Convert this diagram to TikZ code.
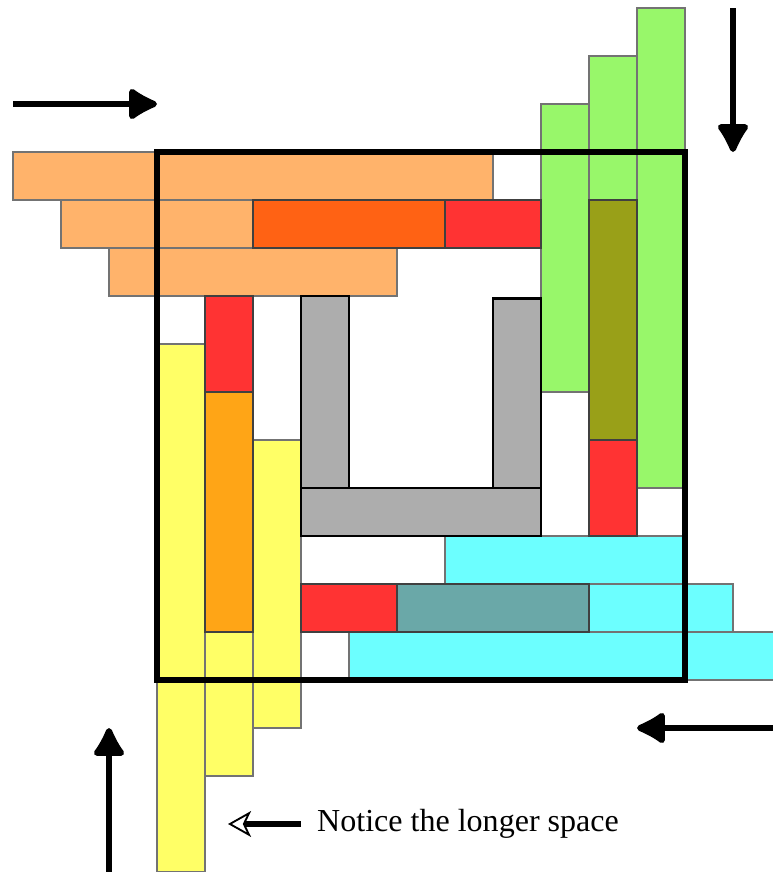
\documentclass[tikz,border=0pt]{standalone}
\usepackage{fontspec}
\setmainfont{Liberation Serif}
\usetikzlibrary{arrows.meta}

% colours of the bars
\definecolor{peach}{HTML}{FFB36B}
\definecolor{ember}{HTML}{FF6214}
\definecolor{tomato}{HTML}{FF3333}
\definecolor{lime}{HTML}{98F76A}
\definecolor{olivebar}{HTML}{99A018}
\definecolor{lemon}{HTML}{FFFF66}
\definecolor{amber}{HTML}{FFA516}
\definecolor{aqua}{HTML}{6CFFFF}
\definecolor{tealbar}{HTML}{6AA8A8}
\definecolor{pipegray}{HTML}{ADADAD}

\begin{document}
\begin{tikzpicture}[
    bar/.style={draw=black!55, line width=1.2pt},
    seg/.style={draw=black!75, line width=1.2pt},
    pipe/.style={draw=black, line width=1.6pt, fill=pipegray},
    bigarrow/.style={line width=3.6pt, -{Latex[length=7mm, width=7.8mm, round]}},
    notearrow/.style={line width=3.2pt, -{Stealth[open, length=4.8mm, width=5.4mm, inset=1.3mm, line width=1.1pt]}}
  ]
  % keep the margins of the page
  \clip (-0.271,0) rectangle (15.833,18.167);
  \useasboundingbox (-0.271,0) rectangle (15.833,18.167);

  % orange bars (top left)
  \draw[bar, fill=peach] (0,14) rectangle (10,15);
  \draw[bar, fill=peach] (1,13) rectangle (11,14);
  \draw[bar, fill=peach] (2,12) rectangle (8,13);

  % green bars (top right)
  \draw[bar, fill=lime] (11,10) rectangle (12,16);
  \draw[bar, fill=lime] (12,7) rectangle (13,17);
  \draw[bar, fill=lime] (13,8) rectangle (14,18);

  % yellow bars (bottom left)
  \draw[bar, fill=lemon] (3,0) rectangle (4,11);
  \draw[bar, fill=lemon] (4,2) rectangle (5,12);
  \draw[bar, fill=lemon] (5,3) rectangle (6,9);

  % cyan bars (bottom right)
  \draw[bar, fill=aqua] (9,6) rectangle (14,7);
  \draw[bar, fill=aqua] (6,5) rectangle (15,6);
  \draw[bar, fill=aqua] (7,4) rectangle (16,5);

  % darker parts where two bars meet
  \draw[seg, fill=ember] (5,13) rectangle (9,14);
  \draw[seg, fill=olivebar] (12,9) rectangle (13,14);
  \draw[seg, fill=amber] (4,5) rectangle (5,10);
  \draw[seg, fill=tealbar] (8,5) rectangle (12,6);

  % red ends
  \draw[seg, fill=tomato] (9,13) rectangle (11,14);
  \draw[seg, fill=tomato] (12,7) rectangle (13,9);
  \draw[seg, fill=tomato] (4,10) rectangle (5,12);
  \draw[seg, fill=tomato] (6,5) rectangle (8,6);

  % gray U in the middle
  \draw[pipe] (6,8) rectangle (7,12);
  \draw[pipe] (10,8) rectangle (11,11.95);
  \draw[pipe] (6,7) rectangle (11,8);

  % frame
  \draw[line width=3pt] (3,4) rectangle (14,15);

  % arrows round the frame
  \coordinate (leftStart) at (0,16);
  \coordinate (leftTip) at (3,16);
  \coordinate (topStart) at (15,18);
  \coordinate (topTip) at (15,15);
  \coordinate (rightStart) at (15.9,3);
  \coordinate (rightTip) at (13,3);
  \coordinate (bottomStart) at (2,0);
  \coordinate (bottomTip) at (2,3);
  \draw[bigarrow] (leftStart) -- (leftTip);
  \draw[bigarrow] (topStart) -- (topTip);
  \draw[bigarrow] (rightStart) -- (rightTip);
  \draw[bigarrow] (bottomStart) -- (bottomTip);

  % note
  \node[anchor=west, inner xsep=0.33cm, inner ysep=0pt, font=\fontsize{19}{22}\selectfont] (note) at (6,1) {Notice the longer space};
  \coordinate (noteTip) at (4.48,1);
  \draw[notearrow] (note.west |- noteTip) -- (noteTip);
\end{tikzpicture}
\end{document}
